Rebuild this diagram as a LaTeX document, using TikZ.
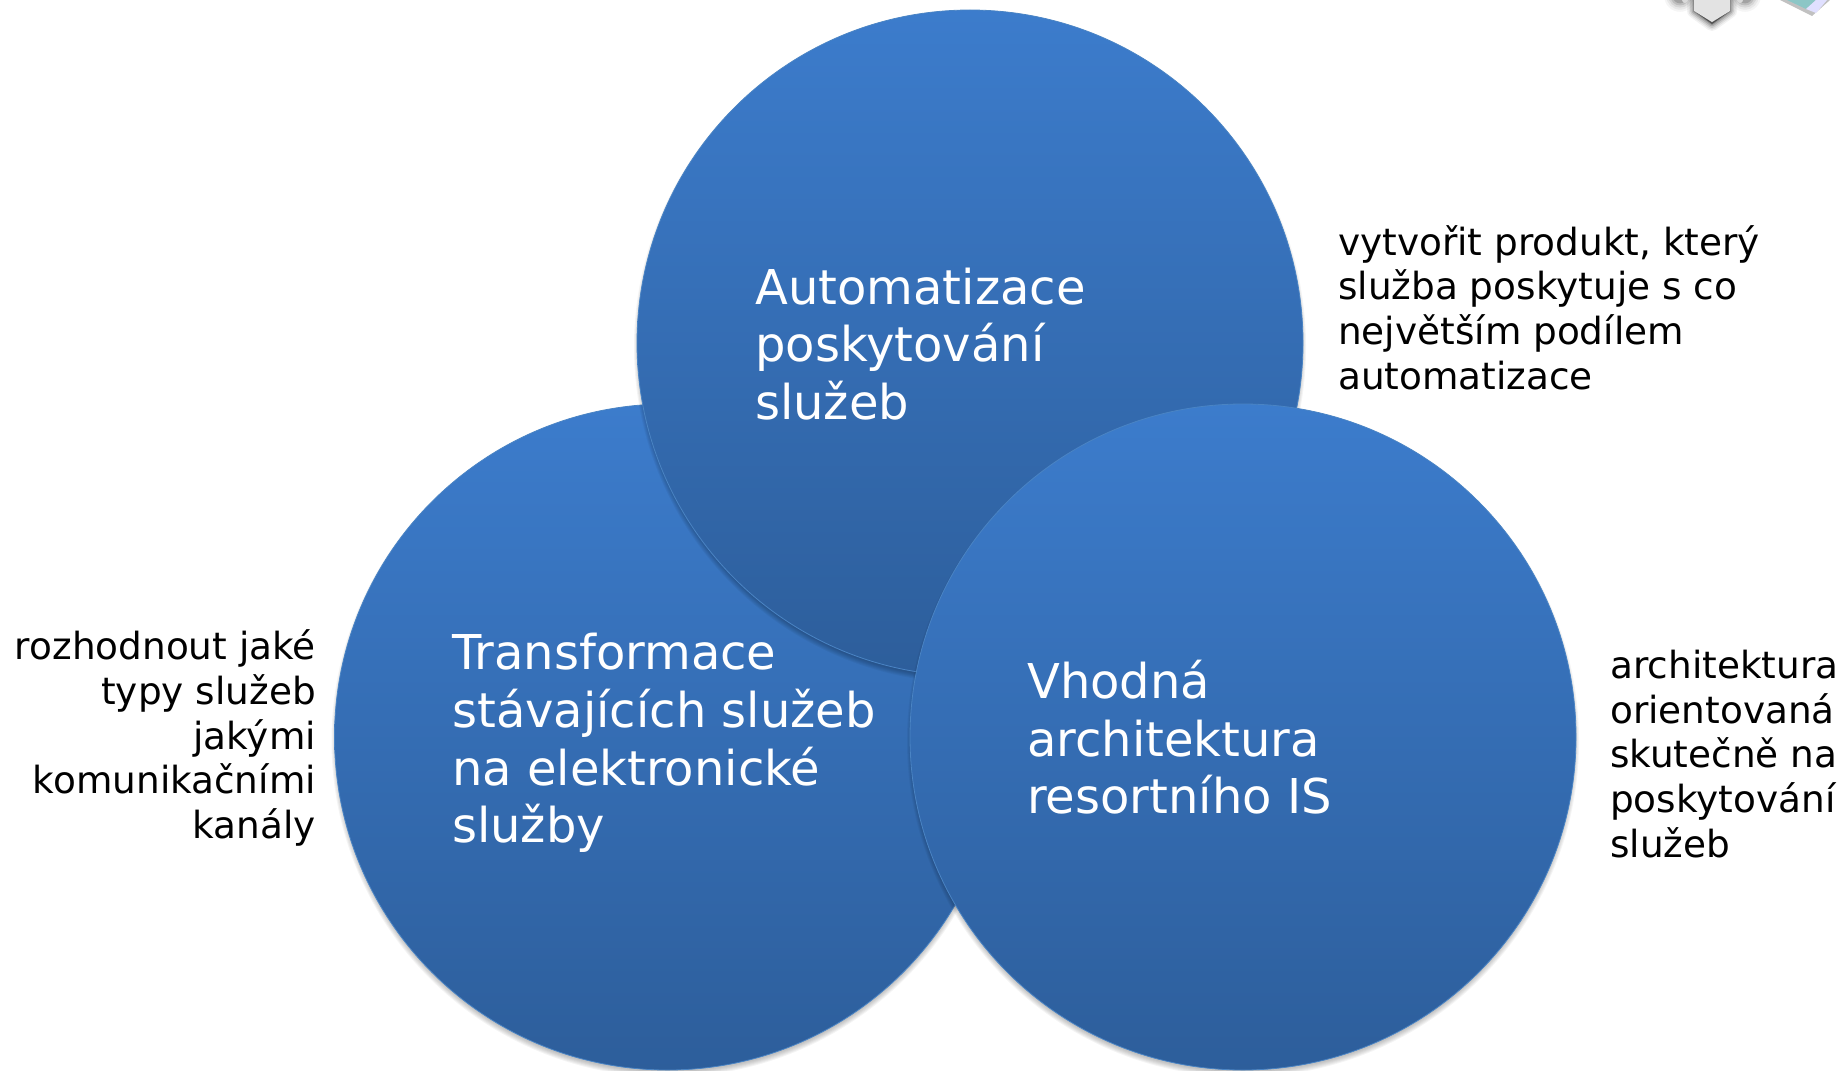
\documentclass[tikz,border=0pt]{standalone}
\usepackage{fontspec}
\setmainfont{DejaVu Sans}
\definecolor{topblue}{HTML}{3C7CCC}
\definecolor{botblue}{HTML}{2D5E9B}
\definecolor{rimblue}{HTML}{4A84C4}
\newcommand{\softshadow}[3]{%
  \foreach \r in {5,4,3,2,1,0}{
    \fill[black,opacity=0.045] (#1,#2+4) circle[radius=#3-2+\r];
  }}
\tikzset{
  bigdisc/.style={circle,minimum size=666pt,inner sep=0pt,top color=topblue,bottom color=botblue,draw=rimblue,line width=0.8pt},
  maintext/.style={text=white,font=\fontsize{48}{57.6}\selectfont,align=left,inner sep=0pt},
  sidetext/.style={text=black,font=\fontsize{37.4}{44.7}\selectfont,inner sep=0pt},
}
\begin{document}
\begin{tikzpicture}[x=1pt,y=-1pt]
\useasboundingbox (0,0) rectangle (1843,1070);
\clip (0,0) rectangle (1843,1070);
% logo fragment
\foreach \r/\o in {14/0.05,11/0.07,8/0.10,5/0.14,2/0.18}{
  \fill[black,opacity=\o,line join=round,draw=black,line width=\r pt] (1694,0) -- (1694,11) -- (1712,24) -- (1730,11) -- (1730,0) -- cycle;
  \fill[black,opacity=\o*0.8] (1680,-4) circle[radius=6+\r*0.7];
  \fill[black,opacity=\o*0.8] (1745,-4) circle[radius=6+\r*0.7];
  \fill[black,opacity=\o*0.5] (1780,0) -- (1812,16) -- (1830,0) -- cycle;
}
\fill[gray!22] (1694,0) -- (1694,11) -- (1712,22) -- (1730,11) -- (1730,0) -- cycle;
\fill[gray!30] (1685,0) circle[radius=3];
\fill[gray!30] (1740,0) circle[radius=3];
\fill[teal!45!white] (1787,0) -- (1806,9) -- (1816,0) -- cycle;
\fill[blue!12!white] (1806,9) -- (1816,13) -- (1827,0) -- (1816,0) -- cycle;
% discs
\softshadow{667.5}{737}{333}
\node[bigdisc] (left) at (667.5,737) {};
\softshadow{970}{343}{333}
\node[bigdisc] (top) at (970,343) {};
\softshadow{1243}{737}{333}
\node[bigdisc] (right) at (1243,737) {};
% disc labels
\node[maintext,anchor=west] (ltext) at (452,743) {Transformace\\stávajících služeb\\na elektronické\\služby};
\node[maintext,anchor=west] (ttext) at (755,344) {Automatizace\\poskytování\\služeb};
\node[maintext,anchor=west] (rtext) at (1027,737.5) {Vhodná\\architektura\\resortního IS};
% side labels
\node[sidetext,align=left,anchor=west] (tnote) at (1338,307.5) {vytvořit produkt, který\\služba poskytuje s co\\největším podílem\\automatizace};
\node[sidetext,align=right,anchor=east] (lnote) at (316,738) {rozhodnout jaké\\typy služeb\\jakými\\komunikačními\\kanály};
\node[sidetext,align=left,anchor=west] (rnote) at (1610,754) {architektura\\orientovaná\\skutečně na\\poskytování\\služeb};
\end{tikzpicture}
\end{document}
